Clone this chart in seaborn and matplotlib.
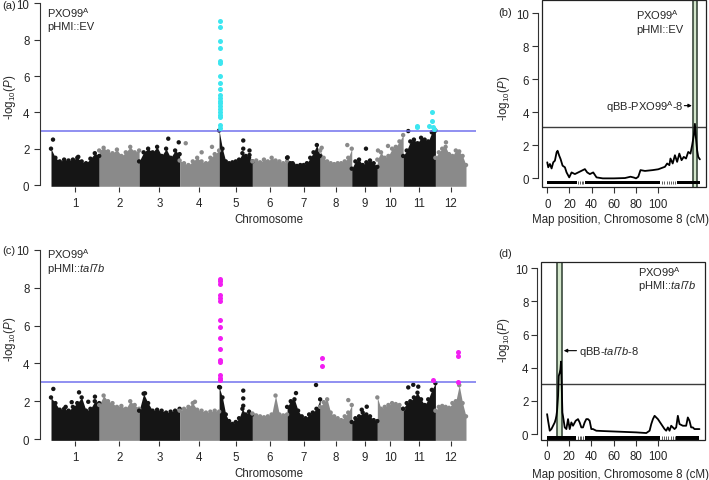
import numpy as np
import pandas as pd
import matplotlib
matplotlib.use("Agg")
import matplotlib.pyplot as plt
from matplotlib.patches import Rectangle
import seaborn as sns

# ---------------- data ----------------
chroms = [str(i) for i in range(1, 13)]
chrom_len_mb = [43.3, 35.9, 36.4, 35.5, 29.9, 31.2, 29.7, 28.4, 23.0, 23.2, 29.0, 27.5]
gwas_threshold = 3.0

# upper envelope of the SNP cloud, per chromosome (values evenly spaced along each chromosome)
a_env = [
    [2.0, 1.5, 1.3, 1.4, 1.35, 1.4, 1.5, 1.3, 1.2, 1.45, 1.75, 1.6],
    [1.9, 2.05, 1.85, 1.75, 1.95, 1.6, 1.8, 2.1, 1.8, 1.9],
    [1.3, 1.8, 2.0, 1.8, 2.1, 1.6, 2.0, 1.5, 1.9, 1.7],
    [1.35, 1.2, 1.1, 1.3, 1.5, 1.3, 1.2, 1.5, 1.7, 1.9],
    [3.0, 2.0, 1.3, 1.2, 1.25, 1.3, 1.4, 1.75, 1.6, 1.5, 1.3],
    [1.3, 1.35, 1.25, 1.4, 1.3, 1.5, 1.35, 1.3, 1.2, 1.3],
    [1.5, 1.2, 1.1, 1.05, 1.1, 1.1, 1.2, 1.5, 1.8, 2.2, 1.6],
    [1.9, 1.5, 1.3, 1.2, 1.15, 1.2, 1.2, 1.3, 1.5, 2.0],
    [0.9, 1.3, 1.4, 1.1, 1.25, 1.35, 1.2, 1.0],
    [1.4, 1.8, 1.5, 1.6, 2.0, 2.1, 2.4, 2.75],
    [1.6, 1.9, 2.4, 2.5, 2.3, 2.6, 2.5, 2.4, 2.9, 3.0],
    [1.5, 1.8, 2.0, 2.1, 1.7, 1.6, 1.9, 1.85, 1.6, 1.1],
]
a_dot_chr = [1, 1, 3, 3, 4, 4, 4, 5, 5, 5, 5, 7, 7, 8, 8, 9, 10, 10, 11, 12]
a_dot_pos = [1.8, 24.5, 26.2, 35.6, 5.5, 19.8, 29.1, 21.7, 21.7, 27.3, 27.3, 0.5, 5.0, 1.4, 24.4, 12.8, 0.6, 9.6, 4.6, 9.5]
a_dot_val = [2.5, 1.55, 2.55, 2.35, 2.3, 1.8, 2.1, 2.45, 2.0, 1.9, 1.65, 1.52, 1.2, 2.05, 2.2, 2.0, 1.9, 2.15, 2.97, 2.35]
a_sig_chr = [5] * 20 + [11] * 7
a_sig_pos = [0.7, 0.9, 0.7, 0.9, 0.7, 0.9, 0.8, 0.8, 0.8, 0.7, 0.9, 0.7, 0.9, 0.8, 0.7, 0.9, 0.8, 0.7, 0.8, 0.9,
             12.7, 12.9, 23.0, 25.9, 26.2, 26.8, 27.7]
a_sig_val = [9.05, 8.72, 7.92, 7.55, 6.83, 6.72, 6.0, 5.6, 5.27, 4.95, 4.8, 4.65, 4.5, 4.35, 4.2, 4.0, 3.85, 3.72, 3.3, 3.12,
             3.26, 3.2, 3.26, 4.0, 3.53, 3.2, 3.1]

c_env = [
    [2.2, 1.9, 1.55, 1.6, 1.5, 1.7, 1.9, 2.2, 1.5, 1.6, 2.0, 1.9],
    [1.8, 2.3, 2.0, 1.9, 1.7, 1.75, 1.6, 2.0, 1.8, 1.6],
    [1.5, 2.4, 1.9, 1.5, 1.55, 1.5, 1.4, 1.45, 1.5, 1.6],
    [1.5, 1.6, 1.7, 1.9, 1.55, 1.5, 1.4, 1.45, 1.5, 1.45],
    [2.75, 2.2, 1.3, 0.95, 0.8, 0.9, 1.1, 1.6, 1.3, 1.45, 1.3],
    [1.35, 1.25, 1.2, 1.15, 1.2, 1.3, 2.3, 1.3, 1.25, 1.3],
    [1.7, 2.0, 2.1, 1.5, 1.2, 1.1, 1.3, 1.4, 1.6, 2.1],
    [1.7, 1.95, 2.1, 1.4, 1.2, 1.1, 1.0, 1.2, 1.4, 1.8],
    [0.9, 1.1, 1.2, 1.4, 1.3, 1.2, 1.0, 0.95],
    [2.2, 1.6, 1.7, 1.8, 1.9, 1.85, 1.8, 1.6],
    [1.6, 1.9, 2.0, 2.2, 2.45, 2.1, 1.8, 2.1, 2.6, 2.95],
    [1.5, 1.7, 1.75, 1.7, 1.65, 1.9, 2.0, 2.85, 1.9, 1.2],
]
c_dot_chr = [1, 1, 1, 1, 1, 1, 3, 4, 5, 5, 5, 5, 7, 7, 7, 8, 9, 9, 11, 11, 11]
c_dot_pos = [2.1, 13.2, 18.6, 25.2, 33.5, 39.5, 5.3, 13.8, 0.8, 21.7, 21.7, 21.7, 4.1, 8.0, 26.0, 25.3, 9.0, 13.5, 4.6, 9.1, 13.6]
c_dot_val = [2.65, 1.7, 1.95, 2.47, 1.97, 2.24, 2.42, 1.97, 2.73, 2.56, 2.15, 1.76, 1.94, 2.43, 2.86, 2.06, 1.55, 1.71, 2.73, 2.87, 2.77]
c_sig_chr = [5] * 15 + [8, 8, 11, 12, 12, 12]
c_sig_pos = [0.7, 0.9, 0.8, 0.7, 0.9, 0.8, 0.8, 0.8, 0.8, 0.8, 0.7, 0.9, 0.7, 0.9, 0.8,
             1.4, 1.4, 26.5, 20.6, 20.6, 20.6]
c_sig_val = [8.45, 8.35, 8.2, 7.6, 7.45, 7.3, 6.3, 5.9, 5.35, 4.75, 4.2, 4.05, 3.4, 3.25, 3.1,
             4.29, 3.85, 3.1, 4.59, 4.38, 3.03]

# QTL interval mapping, chromosome 8
b_cm = [0, 0.9, 2.4, 3.9, 5.4, 6.9, 8.4, 9.3, 10.8, 12, 13.8, 15.9, 17.4, 19.8, 21.9, 24.9, 27.9, 30.9, 33.9,
        36, 38.4, 41.4, 44.4, 50, 60, 70, 75, 78, 80, 82, 84, 88, 95, 100, 106, 108, 110, 111, 113, 115, 117,
        119, 121, 123, 125, 127, 129, 130.5, 132, 133, 134, 135, 136, 137.5]
b_lod = [0.97, 0.67, 0.87, 0.6, 0.97, 1.07, 1.57, 1.67, 1.37, 1.17, 0.77, 0.67, 0.36, 0.06, 0.36, 0.26, 0.36,
         0.46, 0.56, 0.36, 0.26, 0.36, 0.06, 0.0, 0.0, 0.02, 0.1, 0.05, 0.0, 0.1, 0.5, 0.45, 0.5, 0.55, 0.7,
         0.9, 0.8, 1.2, 0.9, 1.4, 1.0, 1.5, 1.1, 1.3, 1.2, 1.6, 1.5, 2.0, 2.6, 3.3, 2.4, 1.7, 1.3, 1.15]
b_threshold = 3.12
b_ci = [130.9, 134.5]

d_cm = [0, 0.9, 2.4, 3.9, 5.4, 6.9, 7.8, 8.4, 9.0, 9.9, 10.5, 11.4, 12.0, 12.6, 13.2, 13.8, 15, 15.9, 17.4,
        18.9, 20.4, 21.9, 23.4, 25.8, 27.9, 29.4, 30.9, 32.4, 33.9, 35.4, 36.9, 38.4, 39.9, 41.4, 44.4, 50.5,
        65.5, 80.5, 89.5, 92.5, 94, 95.5, 97, 100, 103, 106, 107.5, 109, 110.5, 112, 115, 116.5, 118, 119.5,
        122.5, 125.5, 127, 128.5, 130, 131.5, 133, 137.5]
d_lod = [1.2, 0.8, 0.2, 0.3, 0.5, 0.7, 0.9, 1.1, 1.4, 2.3, 3.5, 3.7, 3.9, 4.37, 2.9, 1.3, 0.8, 0.4, 0.3,
         0.9, 0.3, 0.7, 0.5, 0.8, 0.9, 0.7, 0.4, 0.4, 0.7, 0.9, 0.9, 0.8, 0.3, 0.3, 0.2, 0.18,
         0.14, 0.1, 0.06, 0.2, 0.6, 0.9, 1.1, 0.9, 0.6, 0.3, 0.2, 0.4, 0.2, 0.5, 0.3, 0.4, 1.1, 0.6,
         0.5, 0.5, 1.0, 0.8, 0.4, 0.4, 0.3, 0.3]
d_threshold = 3.02
d_ci = [9.0, 13.2]

rug_dense = [(0, 26.5), (34, 101.5), (116.5, 137.5)]
rug_sparse = [28.0, 29.5, 31.0, 32.5, 103.5, 105.5, 107.5, 109.5, 111.5, 113.5, 115.0]

# ---------------- style ----------------
sns.set_style("ticks")
plt.rcParams['font.family'] = ['Liberation Sans', 'DejaVu Sans']
plt.rcParams['mathtext.fontset'] = 'custom'
plt.rcParams['mathtext.rm'] = 'Liberation Sans'
plt.rcParams['mathtext.it'] = 'Liberation Sans:italic'
plt.rcParams['mathtext.bf'] = 'Liberation Sans:bold'

TICK_FS = 8.3
LAB_FS = 8.3
TXT_FS = 8.0
DARK = '#151515'
GRAY = '#8a8a8a'
CYAN = '#3de6f0'
MAGENTA = '#f21ef2'
BLUE = '#7272ee'
AXC = '#333333'

W, H = 709, 481
fig = plt.figure(figsize=(W / 100, H / 100), dpi=100)


def px_axes(x0, y0, x1, y1):
    return fig.add_axes([x0 / W, 1 - y1 / H, (x1 - x0) / W, (y1 - y0) / H])


def ftext(x, y, s, **kw):
    fig.text(x / W, 1 - y / H, s, **kw)


starts = np.concatenate([[0], np.cumsum(chrom_len_mb)[:-1]])
mids = starts + np.array(chrom_len_mb) / 2
PX_PER_MB = 1.1126


def manhattan(ax, env, dchr, dpos, dval, schr, spos, sval, sig_color):
    rows = []
    for i, vals in enumerate(env):
        pos = np.linspace(0, chrom_len_mb[i], len(vals)) + starts[i]
        col = DARK if i % 2 == 0 else GRAY
        ax.fill_between(pos, -0.07, vals, color=col, lw=0, zorder=1)
        kind = 'odd' if i % 2 == 0 else 'even'
        for p, v in zip(pos, vals):
            rows.append((p, v, kind))
    for c, p, v in zip(dchr, dpos, dval):
        rows.append((starts[c - 1] + p, v, 'odd' if c % 2 == 1 else 'even'))
    df = pd.DataFrame(rows, columns=['x', 'y', 'kind'])
    sns.scatterplot(data=df, x='x', y='y', hue='kind', palette={'odd': DARK, 'even': GRAY},
                    s=10, linewidth=0, legend=False, ax=ax, zorder=2)
    ax.axhline(gwas_threshold, color=BLUE, lw=1.1, zorder=2.5)
    sdf = pd.DataFrame({'x': [starts[c - 1] + p for c, p in zip(schr, spos)], 'y': sval})
    sns.scatterplot(data=sdf, x='x', y='y', color=sig_color, s=13, linewidth=0, legend=False, ax=ax, zorder=3)
    for s in ['top', 'right', 'bottom']:
        ax.spines[s].set_visible(False)
    ax.spines['left'].set_bounds(0, 10)
    ax.spines['left'].set_color(AXC)
    ax.spines['left'].set_linewidth(0.8)
    ax.set_xlim((40 - 51) / PX_PER_MB, (476 - 51) / PX_PER_MB)
    ax.set_ylim(-0.12, 10.2)
    ax.set_xticks(mids)
    ax.set_xticklabels(chroms)
    ax.set_yticks([0, 2, 4, 6, 8, 10])
    ax.set_yticklabels(['0', '2', '4', '6', '8', '10'])
    ax.tick_params(axis='y', length=4.6, width=0.8, pad=3.0, color=AXC, labelsize=TICK_FS)
    ax.tick_params(axis='x', length=3.6, width=0.8, pad=3.6, color=AXC, labelsize=TICK_FS)
    ax.set_xlabel('')
    ax.set_ylabel('')
    ax.patch.set_alpha(0)


def qtl(ax, cm, lod, thr, ci, ylim, xlim):
    ax.axvspan(ci[0], ci[1], color='#d4e7cc', lw=0, zorder=0.5)
    ax.axvline(ci[0], color='#3b4a3d', lw=1.2, zorder=0.6)
    ax.axvline(ci[1], color='#3b4a3d', lw=1.2, zorder=0.6)
    ax.axhline(thr, color='#3c3c3c', lw=1.0, zorder=1)
    sns.lineplot(x=cm, y=lod, ax=ax, color='black', lw=1.3, sort=False, estimator=None, zorder=2)
    for lo, hi in rug_dense:
        ax.fill_between([lo, hi], -0.34, -0.14, color='black', lw=0, zorder=2)
    ax.vlines(rug_sparse, -0.34, -0.14, color='#444444', lw=0.6, zorder=2)
    for s in ['top', 'right', 'bottom']:
        ax.spines[s].set_visible(False)
    ax.spines['left'].set_position(('outward', 3.0))
    ax.spines['left'].set_bounds(0, 10)
    ax.spines['left'].set_color(AXC)
    ax.spines['left'].set_linewidth(0.8)
    ax.add_patch(Rectangle((0, 0), 1, 1, transform=ax.transAxes, fill=False, lw=0.9,
                           ec='#222222', clip_on=False, zorder=5))
    ax.set_xlim(*xlim)
    ax.set_ylim(*ylim)
    ax.set_xticks([0, 20, 40, 60, 80, 100])
    ax.set_xticklabels(['0', '20', '40', '60', '80', '100'])
    ax.set_yticks([0, 2, 4, 6, 8, 10])
    ax.set_yticklabels(['0', '2', '4', '6', '8', '10'])
    ax.tick_params(axis='y', length=4.0, width=0.8, pad=2.0, color=AXC, labelsize=TICK_FS)
    ax.tick_params(axis='x', length=4.0, width=0.8, pad=3.5, color=AXC, labelsize=TICK_FS)
    ax.set_xlabel('')
    ax.set_ylabel('')


# ---------------- panels ----------------
ax_a = px_axes(40, 0.7, 476, 188.2)
manhattan(ax_a, a_env, a_dot_chr, a_dot_pos, a_dot_val, a_sig_chr, a_sig_pos, a_sig_val, CYAN)

ax_c = px_axes(40, 247.2, 476, 442.3)
manhattan(ax_c, c_env, c_dot_chr, c_dot_pos, c_dot_val, c_sig_chr, c_sig_pos, c_sig_val, MAGENTA)

ax_b = px_axes(541.7, 1.0, 706, 188.3)
qtl(ax_b, b_cm, b_lod, b_threshold, b_ci, (-0.54, 10.79), (-5.0, 143.0))
ax_b.annotate('', xy=(130.3, 4.4), xytext=(123.5, 4.4),
              arrowprops=dict(arrowstyle='-|>', lw=0.8, color='black', mutation_scale=5,
                              shrinkA=0, shrinkB=0))
ax_b.text(122.5, 4.4, 'qBB-PXO99$^{\\mathrm{A}}$-8', ha='right', va='center', fontsize=TXT_FS)

ax_d = px_axes(541, 263.3, 705, 441)
qtl(ax_d, d_cm, d_lod, d_threshold, d_ci, (-0.36, 10.36), (-5.5, 142.5))
ax_d.annotate('', xy=(15.0, 5.03), xytext=(26.5, 5.03),
              arrowprops=dict(arrowstyle='-|>', lw=0.8, color='black', mutation_scale=5,
                              shrinkA=0, shrinkB=0))
ax_d.text(29.0, 5.03, 'qBB-$\\mathit{tal7b}$-8', ha='left', va='center', fontsize=TXT_FS)

# ---------------- texts ----------------
ylab = '-log$_{10}$($\\mathit{P}$)'
ftext(10, 97, ylab, rotation=90, ha='center', va='center', fontsize=LAB_FS)
ftext(10, 339, ylab, rotation=90, ha='center', va='center', fontsize=LAB_FS)
ftext(504, 98, ylab, rotation=90, ha='center', va='center', fontsize=LAB_FS)
ftext(504, 340, ylab, rotation=90, ha='center', va='center', fontsize=LAB_FS)

ftext(269, 220, 'Chromosome', ha='center', va='center', fontsize=LAB_FS)
ftext(269, 474, 'Chromosome', ha='center', va='center', fontsize=LAB_FS)
ftext(620, 220, 'Map position, Chromosome 8 (cM)', ha='center', va='center', fontsize=LAB_FS)
ftext(620, 475, 'Map position, Chromosome 8 (cM)', ha='center', va='center', fontsize=LAB_FS)

ftext(2, 6, '(a)', ha='left', va='center', fontsize=TXT_FS)
ftext(2, 251, '(c)', ha='left', va='center', fontsize=TXT_FS)
ftext(498, 13.5, '(b)', ha='left', va='center', fontsize=TXT_FS)
ftext(498, 254, '(d)', ha='left', va='center', fontsize=TXT_FS)

pxo = 'PXO99$^{\\mathrm{A}}$'
ftext(47, 12.7, pxo, ha='left', va='center', fontsize=TXT_FS)
ftext(47, 26.5, 'pHMI::EV', ha='left', va='center', fontsize=TXT_FS)
ftext(47, 254.5, pxo, ha='left', va='center', fontsize=TXT_FS)
ftext(47, 268.5, 'pHMI::$\\mathit{tal7b}$', ha='left', va='center', fontsize=TXT_FS)
ftext(636, 15, pxo, ha='left', va='center', fontsize=TXT_FS)
ftext(636, 30, 'pHMI::EV', ha='left', va='center', fontsize=TXT_FS)
ftext(638, 272.0, pxo, ha='left', va='center', fontsize=TXT_FS)
ftext(638, 286.0, 'pHMI::$\\mathit{tal7b}$', ha='left', va='center', fontsize=TXT_FS)

fig.savefig('out.png', dpi=100)
